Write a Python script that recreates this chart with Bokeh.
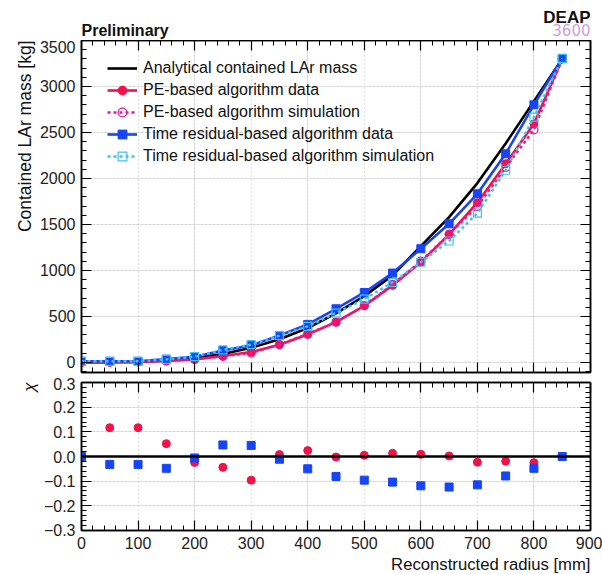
from bokeh.plotting import figure
from bokeh.layouts import column
from bokeh.embed import file_html
from bokeh.resources import INLINE
from bokeh.models import (LinearAxis, SingleIntervalTicker, Legend, LegendItem, Label, Title,
                          Span, Range1d, Grid, CustomJSTickFormatter)

# ---------------- data ----------------
radius = [0, 50, 100, 150, 200, 250, 300, 350, 400, 450, 500, 550, 600, 650, 700, 750, 800, 850]
analytical = [0, 1, 6, 20, 47, 91, 158, 251, 374, 533, 720, 946, 1265, 1580, 1950, 2380, 2840, 3300]
pe_data = [0, 2, 5, 15, 33, 69, 112, 192, 304, 438, 615, 837, 1090, 1391, 1736, 2160, 2594, 3300]
pe_sim = [0, 2.2, 5.6, 15.8, 32.2, 66, 101, 194, 311, 437, 618, 848, 1100, 1394, 1696, 2119, 2529, 3300]
tr_data = [12, 12, 12, 35, 62, 130, 185, 293, 413, 583, 760, 971, 1236, 1507, 1833, 2268, 2801, 3305]
tr_sim = [12, 11.6, 11.6, 33.3, 61.6, 136, 193, 290, 392, 536, 687, 870, 1089, 1320, 1622, 2089, 2667, 3305]
chi_pe = [0, 0.117, 0.117, 0.052, -0.024, -0.044, -0.096, 0.008, 0.024, -0.002, 0.005, 0.013,
          0.009, 0.002, -0.023, -0.019, -0.025, 0]
chi_tr = [0, -0.032, -0.032, -0.048, -0.006, 0.047, 0.045, -0.011, -0.050, -0.081, -0.096, -0.104,
          -0.119, -0.124, -0.115, -0.079, -0.048, 0]

legend_labels = ["Analytical contained LAr mass", "PE-based algorithm data",
                 "PE-based algorithm simulation", "Time residual-based algorithm data",
                 "Time residual-based algorithm simulation"]

FONT = "Liberation Sans"
RED = "#f0124a"
MAG = "#e3199b"
BLUE = "#1545f5"
CYAN = "#3cc4f0"
GRID = "#c4c4c4"

blank = CustomJSTickFormatter(code="return '';")


def make_axis(ticker, labels, formatter=None):
    ax = LinearAxis(ticker=ticker, major_tick_in=10, major_tick_out=0,
                    minor_tick_in=5, minor_tick_out=0,
                    axis_line_color="black", axis_line_width=1.5,
                    major_tick_line_color="black", major_tick_line_width=1.2,
                    minor_tick_line_color="black", minor_tick_line_width=1.0)
    if labels:
        if formatter is not None:
            ax.formatter = formatter
        ax.major_label_text_font = FONT
        ax.major_label_text_font_size = "16px"
        ax.major_label_text_color = "#222222"
        ax.major_label_standoff = 6
    else:
        ax.formatter = blank
        ax.major_label_standoff = 0
    return ax


def style_fig(f):
    f.outline_line_color = "black"
    f.outline_line_width = 1.5
    f.background_fill_color = "white"
    f.border_fill_color = "white"


# ---------------- header strip (texts above the frame) ----------------
head = figure(width=602, height=40, x_range=Range1d(81, 590), y_range=Range1d(40, 0),
              output_backend="svg", toolbar_location=None,
              x_axis_location=None, y_axis_location=None,
              min_border_left=81, min_border_right=12, min_border_top=0, min_border_bottom=0)
head.title = None
head.outline_line_color = None
head.background_fill_color = "white"
head.border_fill_color = "white"
head.grid.visible = False
head.add_layout(Label(x=81, y=30, text="Preliminary", text_font=FONT, text_font_style="bold",
                      text_font_size="16px", text_baseline="alphabetic", text_color="#111111"))
head.add_layout(Label(x=590, y=17, text="DEAP", text_font=FONT, text_font_style="bold",
                      text_font_size="17px", text_align="right", text_baseline="alphabetic",
                      text_color="#111111"))
head.add_layout(Label(x=590, y=29, text="3600", text_font="DejaVu Sans", text_font_size="15px",
                      text_color="#c9a2e0", text_align="right", text_baseline="alphabetic"))

# ---------------- top panel ----------------
p = figure(width=602, height=337, x_range=Range1d(0, 900), y_range=Range1d(-110, 3500),
           output_backend="svg", toolbar_location=None,
           x_axis_location=None, y_axis_location=None,
           min_border_left=81, min_border_right=12, min_border_top=0, min_border_bottom=5)
p.title = None
style_fig(p)

xt = SingleIntervalTicker(interval=100, num_minor_ticks=5)
yt = SingleIntervalTicker(interval=500, num_minor_ticks=5)
p.add_layout(make_axis(yt, True), "left")
p.add_layout(make_axis(yt, False), "right")
p.add_layout(make_axis(xt, False), "below")
p.add_layout(make_axis(xt, False), "above")
p.add_layout(Grid(dimension=0, ticker=xt, grid_line_color=GRID, grid_line_dash="1 3"))
p.add_layout(Grid(dimension=1, ticker=yt, grid_line_color=GRID, grid_line_dash="1 3"))
p.add_layout(Title(text="Contained LAr mass [kg]", align="right", text_font=FONT,
                   text_font_size="17.5px", text_font_style="normal", text_color="#111111",
                   standoff=4), "left")

r_an = p.line(radius, analytical, line_color="black", line_width=2.6)
r_pe_l = p.line(radius, pe_data, line_color=RED, line_width=2.6)
r_pe_m = p.scatter(radius, pe_data, marker="circle", size=8, color=RED)
r_ps_l = p.line(radius, pe_sim, line_color=MAG, line_width=2.4, line_dash="3 3")
r_ps_m = p.scatter(radius, pe_sim, marker="circle", size=8, line_color=MAG, fill_alpha=0, line_width=1.2)
r_tr_l = p.line(radius, tr_data, line_color=BLUE, line_width=2.6)
r_tr_m = p.scatter(radius, tr_data, marker="square", size=8, color=BLUE)
r_ts_l = p.line(radius, tr_sim, line_color=CYAN, line_width=2.4, line_dash="3 3")
r_ts_m = p.scatter(radius, tr_sim, marker="square", size=8, line_color=CYAN, fill_alpha=0, line_width=1.2)

legend = Legend(items=[
    LegendItem(label=legend_labels[0], renderers=[r_an]),
    LegendItem(label=legend_labels[1], renderers=[r_pe_l, r_pe_m]),
    LegendItem(label=legend_labels[2], renderers=[r_ps_l, r_ps_m]),
    LegendItem(label=legend_labels[3], renderers=[r_tr_l, r_tr_m]),
    LegendItem(label=legend_labels[4], renderers=[r_ts_l, r_ts_m]),
], location=(26, 205), border_line_alpha=0, background_fill_alpha=0,
    label_text_font=FONT, label_text_font_size="16px", label_text_color="#111111",
    glyph_width=30, glyph_height=22, label_height=22, spacing=0, padding=0, margin=0,
    label_standoff=6)
p.add_layout(legend)

# ---------------- bottom panel ----------------
p2 = figure(width=602, height=197, x_range=Range1d(0, 900), y_range=Range1d(-0.3005, 0.3005),
            output_backend="svg", toolbar_location=None,
            x_axis_location=None, y_axis_location=None,
            min_border_left=81, min_border_right=12, min_border_top=5, min_border_bottom=42)
p2.title = None
style_fig(p2)

yt2 = SingleIntervalTicker(interval=0.1, num_minor_ticks=5)
fmt = CustomJSTickFormatter(code="return tick.toFixed(1).replace('-', '\u2212');")
p2.add_layout(make_axis(yt2, True, fmt), "left")
p2.add_layout(make_axis(yt2, False), "right")
p2.add_layout(make_axis(xt, True), "below")
p2.add_layout(make_axis(xt, False), "above")
p2.add_layout(Grid(dimension=0, ticker=xt, grid_line_color=GRID, grid_line_dash="1 3"))
p2.add_layout(Grid(dimension=1, ticker=yt2, grid_line_color=GRID, grid_line_dash="1 3"))
p2.add_layout(Span(location=0, dimension="width", line_color="black", line_width=2.6))
p2.add_layout(Title(text="\u03c7", align="right", text_font=FONT, text_font_size="17px",
                    text_font_style="italic", text_color="#111111", standoff=4), "left")
p2.add_layout(Title(text="Reconstructed radius [mm]", align="right", text_font=FONT,
                    text_font_size="16.7px", text_font_style="normal", text_color="#111111",
                    standoff=2), "below")

p2.scatter(radius, chi_pe, marker="circle", size=8, color=RED)
p2.scatter(radius, chi_tr, marker="square", size=8, color=BLUE)

layout = column(head, p, p2, spacing=0)
open("out.html", "w").write(file_html(layout, INLINE))
